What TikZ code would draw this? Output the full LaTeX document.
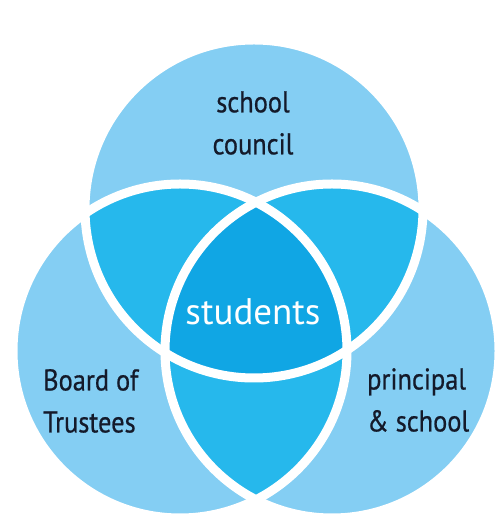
\documentclass[tikz,border=0pt]{standalone}
\usepackage{fontspec}
\setmainfont{PT Sans}
\newfontfamily\labelfont{PT Sans}[FakeStretch=0.88, FakeBold=0.6]
\usepackage{tikz}
\definecolor{ring}{RGB}{132,206,243}
\definecolor{pair}{RGB}{38,184,236}
\definecolor{core}{RGB}{16,166,228}
\definecolor{ink}{RGB}{20,26,42}

\tikzset{
  group/.style={circle, fill=ring, inner sep=0pt},
  rim/.style={draw=white, line width=9pt},
  label/.style={inner sep=0pt, text=ink, font=\labelfont\fontsize{30}{42}\selectfont}
}

\begin{document}
\begin{tikzpicture}[x=1pt,y=1pt]
\useasboundingbox (0,0) rectangle (498,518);
\fill[white] (0,0) rectangle (498,518);

\node[group, minimum size=338pt] (council) at (254,309) {};
\node[group, minimum size=334pt] (board) at (180,167) {};
\node[group, minimum size=334pt] (principal) at (332,167) {};

\begin{scope}
\clip (council.center) circle (169pt);
\fill[pair] (board.center) circle (167pt);
\fill[pair] (principal.center) circle (167pt);
\end{scope}
\begin{scope}
\clip (board.center) circle (167pt);
\fill[pair] (principal.center) circle (167pt);
\end{scope}
\begin{scope}
\clip (council.center) circle (169pt);
\clip (board.center) circle (167pt);
\fill[core] (principal.center) circle (167pt);
\end{scope}

\draw[rim] (council.center) circle (169pt);
\draw[rim] (board.center) circle (167pt);
\draw[rim] (principal.center) circle (167pt);

\node[label, align=center] (councilname) at (253,395) {school\\council};
\node[label, align=left, anchor=west] (boardname) at (43,117) {Board of\\Trustees};
\node[label, align=left, anchor=west] (principalname) at (367,118) {principal\\\& school};
\node[inner sep=0pt, text=white, font=\fontsize{37}{42}\selectfont, anchor=base] (students) at (253,193) {students};
\end{tikzpicture}
\end{document}
